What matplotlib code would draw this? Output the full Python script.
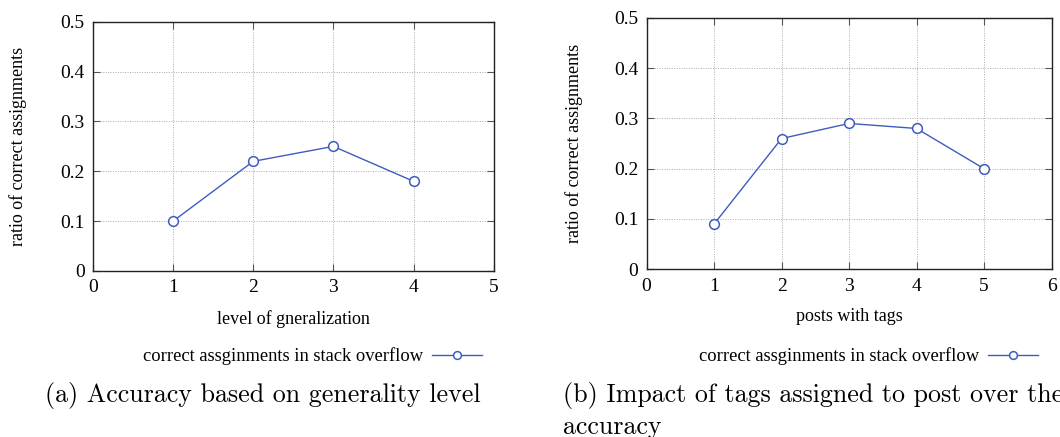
import matplotlib
matplotlib.use('Agg')
import matplotlib.pyplot as plt

# data
levels = [1, 2, 3, 4]
ratio_levels = [0.10, 0.22, 0.25, 0.18]
posts = [1, 2, 3, 4, 5]
ratio_posts = [0.09, 0.26, 0.29, 0.28, 0.20]

y_ticks = [0, 0.1, 0.2, 0.3, 0.4, 0.5]
y_tick_labels = ['0', '0.1', '0.2', '0.3', '0.4', '0.5']
legend_label = 'correct assginments in stack overflow'
line_color = '#3f5cbf'

serif = ['Liberation Serif', 'DejaVu Serif']

fig = plt.figure(figsize=(10.6, 4.37), dpi=100)
ax1 = fig.add_axes([0.0877, 0.380, 0.378, 0.570])
ax2 = fig.add_axes([0.610, 0.384, 0.382, 0.575])


def style_axis(ax, xs, ys, xmax, xlabel, ylab_x):
    ax.plot(xs, ys, color=line_color, linewidth=1.0, marker='o', markersize=7,
            markerfacecolor='white', markeredgecolor=line_color, markeredgewidth=1.1,
            label=legend_label)
    ax.set_xlim(0, xmax)
    ax.set_ylim(0, 0.5)
    ax.set_xticks(range(0, xmax + 1))
    ax.set_xticklabels([str(i) for i in range(0, xmax + 1)], family=serif, fontsize=14)
    ax.set_yticks(y_ticks)
    ax.set_yticklabels(y_tick_labels, family=serif, fontsize=14)
    ax.tick_params(direction='in', length=5, top=True, right=True, width=0.8, color='#555555', pad=6)
    ax.grid(True, color='#aaaaaa', linestyle=(0, (1, 1.5)), linewidth=0.7)
    for s in ax.spines.values():
        s.set_linewidth(1.0)
        s.set_color('#222222')
    ax.set_xlabel(xlabel, family=serif, fontsize=13, labelpad=10)
    ax.set_ylabel('ratio of correct assignments', family=serif, fontsize=13)
    ax.yaxis.set_label_coords(ylab_x, 0.5)


style_axis(ax1, levels, ratio_levels, 5, 'level of gneralization', -0.165)
style_axis(ax2, posts, ratio_posts, 6, 'posts with tags', -0.156)

for ax, cx in [(ax1, 0.295), (ax2, 0.819)]:
    fig.legend(handles=ax.get_lines(), loc='center', bbox_to_anchor=(cx, 0.185),
               frameon=False, markerfirst=False, handlelength=2.7, handletextpad=0.5,
               markerscale=0.8, prop={'family': serif, 'size': 13.3})

# captions (the second one runs past the right edge, as in the source figure)
cap = dict(family='cmr10', fontsize=18.7, va='baseline')
fig.text(0.042, 0.080, '(a) Accuracy based on generality level', **cap)
fig.text(0.531, 0.080, '(b) Impact of tags assigned to post over the', **cap)
fig.text(0.531, 0.007, 'accuracy', **cap)

fig.savefig('out.png', dpi=100)
